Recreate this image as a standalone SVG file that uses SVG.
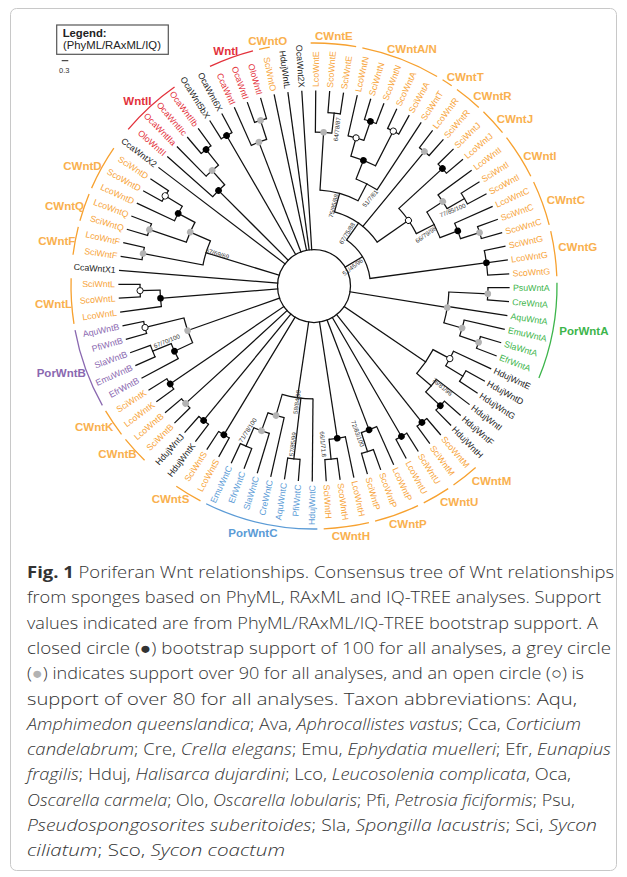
<svg xmlns="http://www.w3.org/2000/svg" xmlns:xlink="http://www.w3.org/1999/xlink" width="627" height="877" viewBox="0 0 627 877">
<style>
.br line{stroke:#111;stroke-width:1.25;stroke-linecap:square}
.br circle{fill:none;stroke:#111;stroke-width:1.25}
.tips text{font-family:"Liberation Sans",Arial,sans-serif;font-size:8.8px;dominant-baseline:central}
.L{text-anchor:end}
.o{fill:#F7A43A}.r{fill:#E3313B}.k{fill:#222}.g{fill:#3DB54B}.b{fill:#5B9BD6}.p{fill:#8A68B0}
.cl{font-family:"Liberation Sans",Arial,sans-serif;font-size:11.5px;font-weight:bold}
.co{fill:#F9B04E}
.bs{font-family:"Liberation Sans",Arial,sans-serif;font-size:6.2px;fill:#333;text-anchor:middle;dominant-baseline:central}
.ba circle{fill:none;stroke-width:1.3}
.cap{font-family:"Open Sans","Noto Sans",sans-serif;font-size:16.5px;font-weight:300;fill:#333}
.it{font-style:italic}
</style>
<defs>
<circle id="db" r="3.3" fill="#000"/>
<circle id="dg" r="3.3" fill="#b3b3b3"/>
<circle id="do" r="3.1" fill="#fff" stroke="#000" stroke-width="0.9"/>
</defs>
<rect x="10.5" y="8.5" width="606" height="862" rx="6" fill="#fff" stroke="#c8c8c8"/>
<g id="legend">
<rect x="56.7" y="25" width="111.6" height="29.3" fill="#fff" stroke="#555" stroke-width="1.2"/>
<text x="62.7" y="36.5" font-family="Liberation Sans,Arial,sans-serif" font-size="11.3" font-weight="bold" fill="#222">Legend:</text>
<text x="63" y="49" font-family="Liberation Sans,Arial,sans-serif" font-size="11.3" fill="#222">(PhyML/RAxML/IQ)</text>
<line x1="61.7" y1="60.7" x2="68.3" y2="60.7" stroke="#222" stroke-width="1"/>
<text x="59" y="73" font-family="Liberation Sans,Arial,sans-serif" font-size="7.5" fill="#333">0.3</text>
</g>
<g transform="translate(314 286)">
<g id="connectors" class="br">
<circle r="36.5"/>
<line x1="36.5" x2="195" transform="rotate(184.6)"/>
<line x1="174" x2="195" transform="rotate(188.69)"/>
<line x1="174" x2="195" transform="rotate(192.78)"/>
<line x1="174" x2="195" transform="rotate(196.87)"/>
<line x1="174" x2="195" transform="rotate(200.96)"/>
<line x1="154" x2="195" transform="rotate(205.05)"/>
<line x1="174" x2="195" transform="rotate(209.15)"/>
<line x1="174" x2="195" transform="rotate(213.24)"/>
<line x1="36.5" x2="195" transform="rotate(217.33)"/>
<line x1="135" x2="195" transform="rotate(221.42)"/>
<line x1="154" x2="195" transform="rotate(225.51)"/>
<line x1="174" x2="195" transform="rotate(229.6)"/>
<line x1="174" x2="195" transform="rotate(233.69)"/>
<line x1="174" x2="195" transform="rotate(237.78)"/>
<line x1="174" x2="195" transform="rotate(241.87)"/>
<line x1="154" x2="195" transform="rotate(245.96)"/>
<line x1="174" x2="195" transform="rotate(250.05)"/>
<line x1="174" x2="195" transform="rotate(254.15)"/>
<line x1="36.5" x2="195" transform="rotate(258.24)"/>
<line x1="36.5" x2="195" transform="rotate(262.33)"/>
<line x1="36.5" x2="195" transform="rotate(266.42)"/>
<line x1="154" x2="195" transform="rotate(270.51)"/>
<line x1="174" x2="195" transform="rotate(274.6)"/>
<line x1="174" x2="195" transform="rotate(278.69)"/>
<line x1="154" x2="195" transform="rotate(282.78)"/>
<line x1="174" x2="195" transform="rotate(286.87)"/>
<line x1="174" x2="195" transform="rotate(290.96)"/>
<line x1="174" x2="195" transform="rotate(295.05)"/>
<line x1="174" x2="195" transform="rotate(299.15)"/>
<line x1="115" x2="195" transform="rotate(303.24)"/>
<line x1="174" x2="195" transform="rotate(307.33)"/>
<line x1="174" x2="195" transform="rotate(311.42)"/>
<line x1="174" x2="195" transform="rotate(315.51)"/>
<line x1="174" x2="195" transform="rotate(319.6)"/>
<line x1="154" x2="195" transform="rotate(323.69)"/>
<line x1="174" x2="195" transform="rotate(327.78)"/>
<line x1="174" x2="195" transform="rotate(331.87)"/>
<line x1="154" x2="195" transform="rotate(335.96)"/>
<line x1="174" x2="195" transform="rotate(340.05)"/>
<line x1="174" x2="195" transform="rotate(344.15)"/>
<line x1="174" x2="195" transform="rotate(348.24)"/>
<line x1="174" x2="195" transform="rotate(352.33)"/>
<line x1="174" x2="195" transform="rotate(356.42)"/>
<line x1="174" x2="195" transform="rotate(0.51)"/>
<line x1="174" x2="195" transform="rotate(4.6)"/>
<line x1="135" x2="195" transform="rotate(8.69)"/>
<line x1="154" x2="195" transform="rotate(12.78)"/>
<line x1="174" x2="195" transform="rotate(16.87)"/>
<line x1="174" x2="195" transform="rotate(20.96)"/>
<line x1="154" x2="195" transform="rotate(25.05)"/>
<line x1="174" x2="195" transform="rotate(29.15)"/>
<line x1="174" x2="195" transform="rotate(33.24)"/>
<line x1="154" x2="195" transform="rotate(37.33)"/>
<line x1="174" x2="195" transform="rotate(41.42)"/>
<line x1="174" x2="195" transform="rotate(45.51)"/>
<line x1="174" x2="195" transform="rotate(49.6)"/>
<line x1="174" x2="195" transform="rotate(53.69)"/>
<line x1="174" x2="195" transform="rotate(57.78)"/>
<line x1="174" x2="195" transform="rotate(61.87)"/>
<line x1="154" x2="195" transform="rotate(65.96)"/>
<line x1="174" x2="195" transform="rotate(70.05)"/>
<line x1="174" x2="195" transform="rotate(74.15)"/>
<line x1="154" x2="195" transform="rotate(78.24)"/>
<line x1="174" x2="195" transform="rotate(82.33)"/>
<line x1="174" x2="195" transform="rotate(86.42)"/>
<line x1="113" x2="195" transform="rotate(90.51)"/>
<line x1="174" x2="195" transform="rotate(94.6)"/>
<line x1="174" x2="195" transform="rotate(98.69)"/>
<line x1="135" x2="195" transform="rotate(102.78)"/>
<line x1="154" x2="195" transform="rotate(106.87)"/>
<line x1="174" x2="195" transform="rotate(110.96)"/>
<line x1="174" x2="195" transform="rotate(115.05)"/>
<line x1="174" x2="195" transform="rotate(119.15)"/>
<line x1="174" x2="195" transform="rotate(123.24)"/>
<line x1="174" x2="195" transform="rotate(127.33)"/>
<line x1="174" x2="195" transform="rotate(131.42)"/>
<line x1="174" x2="195" transform="rotate(135.51)"/>
<line x1="174" x2="195" transform="rotate(139.6)"/>
<line x1="174" x2="195" transform="rotate(143.69)"/>
<line x1="174" x2="195" transform="rotate(147.78)"/>
<line x1="154" x2="195" transform="rotate(151.87)"/>
<line x1="174" x2="195" transform="rotate(155.96)"/>
<line x1="174" x2="195" transform="rotate(160.05)"/>
<line x1="174" x2="195" transform="rotate(164.15)"/>
<line x1="174" x2="195" transform="rotate(168.24)"/>
<line x1="154" x2="195" transform="rotate(172.33)"/>
<line x1="174" x2="195" transform="rotate(176.42)"/>
<line x1="174" x2="195" transform="rotate(180.51)"/>
<line x1="36.5" x2="113" transform="rotate(197.13)"/>
<line x1="113" x2="174" transform="rotate(190.74)"/>
<line x1="113" x2="135" transform="rotate(203.52)"/>
<line x1="135" x2="174" transform="rotate(198.92)"/>
<line x1="135" x2="154" transform="rotate(208.12)"/>
<line x1="154" x2="174" transform="rotate(211.2)"/>
<line x1="36.5" x2="135" transform="rotate(225)"/>
<line x1="135" x2="154" transform="rotate(228.58)"/>
<line x1="154" x2="174" transform="rotate(231.65)"/>
<line x1="36.5" x2="174" transform="rotate(239.83)"/>
<line x1="36.5" x2="154" transform="rotate(249.03)"/>
<line x1="154" x2="174" transform="rotate(252.1)"/>
<line x1="36.5" x2="56.5" transform="rotate(328.84)"/>
<line x1="56.5" x2="77" transform="rotate(305.35)"/>
<line x1="56.5" x2="174" transform="rotate(352.33)"/>
<line x1="77" x2="96" transform="rotate(285.47)"/>
<line x1="96" x2="154" transform="rotate(273.58)"/>
<line x1="154" x2="174" transform="rotate(276.65)"/>
<line x1="96" x2="115" transform="rotate(297.36)"/>
<line x1="115" x2="135" transform="rotate(291.47)"/>
<line x1="135" x2="154" transform="rotate(285.85)"/>
<line x1="154" x2="174" transform="rotate(288.92)"/>
<line x1="135" x2="174" transform="rotate(297.1)"/>
<line x1="77" x2="174" transform="rotate(309.38)"/>
<line x1="77" x2="115" transform="rotate(325.23)"/>
<line x1="115" x2="174" transform="rotate(317.56)"/>
<line x1="115" x2="135" transform="rotate(332.9)"/>
<line x1="135" x2="154" transform="rotate(326.76)"/>
<line x1="154" x2="174" transform="rotate(329.83)"/>
<line x1="135" x2="154" transform="rotate(339.03)"/>
<line x1="154" x2="174" transform="rotate(342.1)"/>
<line x1="36.5" x2="135" transform="rotate(9.2)"/>
<line x1="135" x2="174" transform="rotate(2.55)"/>
<line x1="135" x2="154" transform="rotate(15.85)"/>
<line x1="154" x2="174" transform="rotate(18.92)"/>
<line x1="36.5" x2="135" transform="rotate(34.26)"/>
<line x1="135" x2="154" transform="rotate(28.12)"/>
<line x1="154" x2="174" transform="rotate(31.2)"/>
<line x1="135" x2="154" transform="rotate(40.4)"/>
<line x1="154" x2="174" transform="rotate(43.47)"/>
<line x1="36.5" x2="174" transform="rotate(51.65)"/>
<line x1="36.5" x2="174" transform="rotate(59.83)"/>
<line x1="36.5" x2="154" transform="rotate(69.03)"/>
<line x1="154" x2="174" transform="rotate(72.1)"/>
<line x1="36.5" x2="154" transform="rotate(81.31)"/>
<line x1="154" x2="174" transform="rotate(84.38)"/>
<line x1="36.5" x2="113" transform="rotate(98.44)"/>
<line x1="113" x2="174" transform="rotate(96.65)"/>
<line x1="113" x2="135" transform="rotate(106.36)"/>
<line x1="135" x2="154" transform="rotate(109.94)"/>
<line x1="154" x2="174" transform="rotate(113.01)"/>
<line x1="36.5" x2="174" transform="rotate(121.2)"/>
<line x1="36.5" x2="174" transform="rotate(129.38)"/>
<line x1="36.5" x2="174" transform="rotate(137.56)"/>
<line x1="36.5" x2="174" transform="rotate(145.74)"/>
<line x1="36.5" x2="134" transform="rotate(160.58)"/>
<line x1="134" x2="154" transform="rotate(154.94)"/>
<line x1="154" x2="174" transform="rotate(158.01)"/>
<line x1="134" x2="174" transform="rotate(166.2)"/>
<line x1="36.5" x2="154" transform="rotate(175.44)"/>
<line x1="154" x2="174" transform="rotate(178.47)"/>
<circle r="174" pathLength="360" stroke-dasharray="4.09 999" transform="rotate(188.69)"/>
<circle r="174" pathLength="360" stroke-dasharray="4.09 999" transform="rotate(196.87)"/>
<circle r="174" pathLength="360" stroke-dasharray="4.09 999" transform="rotate(209.15)"/>
<circle r="154" pathLength="360" stroke-dasharray="6.15 999" transform="rotate(205.05)"/>
<circle r="135" pathLength="360" stroke-dasharray="9.2 999" transform="rotate(198.92)"/>
<circle r="113" pathLength="360" stroke-dasharray="12.78 999" transform="rotate(190.74)"/>
<circle r="174" pathLength="360" stroke-dasharray="4.09 999" transform="rotate(229.6)"/>
<circle r="154" pathLength="360" stroke-dasharray="6.14 999" transform="rotate(225.51)"/>
<circle r="135" pathLength="360" stroke-dasharray="7.16 999" transform="rotate(221.42)"/>
<circle r="174" pathLength="360" stroke-dasharray="4.09 999" transform="rotate(237.78)"/>
<circle r="174" pathLength="360" stroke-dasharray="4.1 999" transform="rotate(250.05)"/>
<circle r="154" pathLength="360" stroke-dasharray="6.14 999" transform="rotate(245.96)"/>
<circle r="174" pathLength="360" stroke-dasharray="8.18 999" transform="rotate(348.24)"/>
<circle r="174" pathLength="360" stroke-dasharray="4.09 999" transform="rotate(274.6)"/>
<circle r="154" pathLength="360" stroke-dasharray="6.14 999" transform="rotate(270.51)"/>
<circle r="174" pathLength="360" stroke-dasharray="4.09 999" transform="rotate(286.87)"/>
<circle r="154" pathLength="360" stroke-dasharray="6.14 999" transform="rotate(282.78)"/>
<circle r="174" pathLength="360" stroke-dasharray="4.1 999" transform="rotate(295.05)"/>
<circle r="135" pathLength="360" stroke-dasharray="11.25 999" transform="rotate(285.85)"/>
<circle r="115" pathLength="360" stroke-dasharray="11.77 999" transform="rotate(291.47)"/>
<circle r="96" pathLength="360" stroke-dasharray="23.78 999" transform="rotate(273.58)"/>
<circle r="174" pathLength="360" stroke-dasharray="4.09 999" transform="rotate(307.33)"/>
<circle r="174" pathLength="360" stroke-dasharray="4.09 999" transform="rotate(315.51)"/>
<circle r="174" pathLength="360" stroke-dasharray="4.09 999" transform="rotate(327.78)"/>
<circle r="154" pathLength="360" stroke-dasharray="6.14 999" transform="rotate(323.69)"/>
<circle r="174" pathLength="360" stroke-dasharray="4.1 999" transform="rotate(340.05)"/>
<circle r="154" pathLength="360" stroke-dasharray="6.14 999" transform="rotate(335.96)"/>
<circle r="135" pathLength="360" stroke-dasharray="12.27 999" transform="rotate(326.76)"/>
<circle r="115" pathLength="360" stroke-dasharray="15.34 999" transform="rotate(317.56)"/>
<circle r="77" pathLength="360" stroke-dasharray="39.76 999" transform="rotate(285.47)"/>
<circle r="56.5" pathLength="360" stroke-dasharray="46.98 999" transform="rotate(305.35)"/>
<circle r="174" pathLength="360" stroke-dasharray="4.09 999" transform="rotate(0.51)"/>
<circle r="174" pathLength="360" stroke-dasharray="4.09 999" transform="rotate(16.87)"/>
<circle r="154" pathLength="360" stroke-dasharray="6.14 999" transform="rotate(12.78)"/>
<circle r="135" pathLength="360" stroke-dasharray="13.3 999" transform="rotate(2.55)"/>
<circle r="174" pathLength="360" stroke-dasharray="4.09 999" transform="rotate(29.15)"/>
<circle r="154" pathLength="360" stroke-dasharray="6.15 999" transform="rotate(25.05)"/>
<circle r="174" pathLength="360" stroke-dasharray="4.09 999" transform="rotate(41.42)"/>
<circle r="154" pathLength="360" stroke-dasharray="6.14 999" transform="rotate(37.33)"/>
<circle r="135" pathLength="360" stroke-dasharray="12.28 999" transform="rotate(28.12)"/>
<circle r="174" pathLength="360" stroke-dasharray="4.09 999" transform="rotate(49.6)"/>
<circle r="174" pathLength="360" stroke-dasharray="4.09 999" transform="rotate(57.78)"/>
<circle r="174" pathLength="360" stroke-dasharray="4.1 999" transform="rotate(70.05)"/>
<circle r="154" pathLength="360" stroke-dasharray="6.14 999" transform="rotate(65.96)"/>
<circle r="174" pathLength="360" stroke-dasharray="4.09 999" transform="rotate(82.33)"/>
<circle r="154" pathLength="360" stroke-dasharray="6.14 999" transform="rotate(78.24)"/>
<circle r="174" pathLength="360" stroke-dasharray="4.09 999" transform="rotate(94.6)"/>
<circle r="174" pathLength="360" stroke-dasharray="4.09 999" transform="rotate(110.96)"/>
<circle r="154" pathLength="360" stroke-dasharray="6.14 999" transform="rotate(106.87)"/>
<circle r="135" pathLength="360" stroke-dasharray="7.16 999" transform="rotate(102.78)"/>
<circle r="113" pathLength="360" stroke-dasharray="15.85 999" transform="rotate(90.51)"/>
<circle r="174" pathLength="360" stroke-dasharray="4.09 999" transform="rotate(119.15)"/>
<circle r="174" pathLength="360" stroke-dasharray="4.09 999" transform="rotate(127.33)"/>
<circle r="174" pathLength="360" stroke-dasharray="4.09 999" transform="rotate(135.51)"/>
<circle r="174" pathLength="360" stroke-dasharray="4.09 999" transform="rotate(143.69)"/>
<circle r="174" pathLength="360" stroke-dasharray="4.09 999" transform="rotate(155.96)"/>
<circle r="154" pathLength="360" stroke-dasharray="6.14 999" transform="rotate(151.87)"/>
<circle r="174" pathLength="360" stroke-dasharray="4.09 999" transform="rotate(164.15)"/>
<circle r="134" pathLength="360" stroke-dasharray="11.26 999" transform="rotate(154.94)"/>
<circle r="174" pathLength="360" stroke-dasharray="4.09 999" transform="rotate(176.42)"/>
<circle r="154" pathLength="360" stroke-dasharray="6.14 999" transform="rotate(172.33)"/>
</g>
<g id="internal-nodes">
<g id="n-F"><use href="#dg" transform="rotate(190.74) translate(174)"/></g>
<g id="n-Q"><use href="#dg" transform="rotate(198.92) translate(174)"/></g>
<g id="n-QD"><use href="#dg" transform="rotate(203.52) translate(135)"/></g>
<g id="n-D1"><use href="#do" transform="rotate(211.2) translate(174)"/></g>
<g id="n-D2"><use href="#db" transform="rotate(208.12) translate(154)"/></g>
<g id="n-II1"><use href="#db" transform="rotate(231.65) translate(174)"/></g>
<g id="n-II2"><use href="#dg" transform="rotate(228.58) translate(154)"/></g>
<g id="n-II3"><use href="#db" transform="rotate(225) translate(135)"/></g>
<g id="n-5b6"><use href="#db" transform="rotate(239.83) translate(174)"/></g>
<g id="n-I1"><use href="#dg" transform="rotate(252.1) translate(174)"/></g>
<g id="n-I2"><use href="#dg" transform="rotate(249.03) translate(154)"/></g>
<g id="n-E2"><use href="#dg" transform="rotate(273.58) translate(154)"/></g>
<g id="n-N1"><use href="#db" transform="rotate(288.92) translate(174)"/></g>
<g id="n-N2"><use href="#do" transform="rotate(285.85) translate(154)"/></g>
<g id="n-A1"><use href="#do" transform="rotate(297.1) translate(174)"/></g>
<g id="n-NA"><use href="#db" transform="rotate(291.47) translate(135)"/></g>
<g id="n-R"><use href="#dg" transform="rotate(309.38) translate(174)"/></g>
<g id="n-J"><use href="#db" transform="rotate(317.56) translate(174)"/></g>
<g id="n-Ic"><use href="#dg" transform="rotate(326.76) translate(154)"/></g>
<g id="n-C1"><use href="#dg" transform="rotate(342.1) translate(174)"/></g>
<g id="n-C2"><use href="#db" transform="rotate(339.03) translate(154)"/></g>
<g id="n-Y"><use href="#do" transform="rotate(325.23) translate(115)"/></g>
<g id="n-G"><use href="#db" transform="rotate(352.33) translate(174)"/></g>
<g id="n-A_1"><use href="#dg" transform="rotate(2.55) translate(174)"/></g>
<g id="n-PA"><use href="#dg" transform="rotate(9.2) translate(135)"/></g>
<g id="n-A_3"><use href="#dg" transform="rotate(15.85) translate(154)"/></g>
<g id="n-A_2"><use href="#dg" transform="rotate(18.92) translate(174)"/></g>
<g id="n-HEDG"><use href="#do" transform="rotate(28.12) translate(154)"/></g>
<g id="n-HFH"><use href="#db" transform="rotate(43.47) translate(174)"/></g>
<g id="n-M"><use href="#db" transform="rotate(51.65) translate(174)"/></g>
<g id="n-U"><use href="#db" transform="rotate(59.83) translate(174)"/></g>
<g id="n-P2"><use href="#db" transform="rotate(69.03) translate(154)"/></g>
<g id="n-H2"><use href="#db" transform="rotate(81.31) translate(154)"/></g>
<g id="n-C_3"><use href="#dg" transform="rotate(106.36) translate(135)"/></g>
<g id="n-C_2"><use href="#dg" transform="rotate(109.94) translate(154)"/></g>
<g id="n-S"><use href="#db" transform="rotate(121.2) translate(174)"/></g>
<g id="n-HJK"><use href="#db" transform="rotate(129.38) translate(174)"/></g>
<g id="n-B"><use href="#dg" transform="rotate(137.56) translate(174)"/></g>
<g id="n-K"><use href="#db" transform="rotate(145.74) translate(174)"/></g>
<g id="n-B3"><use href="#db" transform="rotate(154.94) translate(154)"/></g>
<g id="n-PB"><use href="#dg" transform="rotate(160.58) translate(134)"/></g>
<g id="n-B1"><use href="#do" transform="rotate(166.2) translate(174)"/></g>
<g id="n-L2"><use href="#db" transform="rotate(175.44) translate(154)"/></g>
<g id="n-L1"><use href="#do" transform="rotate(178.47) translate(174)"/></g>
</g>
<g id="brackets" class="ba">
<circle r="243" stroke="#F7A12F" pathLength="360" stroke-dasharray="6.7 999" transform="rotate(187.39)"/>
<circle r="243" stroke="#F7A12F" pathLength="360" stroke-dasharray="6.7 999" transform="rotate(195.57)"/>
<circle r="243" stroke="#F7A12F" pathLength="360" stroke-dasharray="10.8 999" transform="rotate(203.75)"/>
<circle r="243" stroke="#E3313B" pathLength="360" stroke-dasharray="14.87 999" transform="rotate(220.12)"/>
<circle r="243" stroke="#E3313B" pathLength="360" stroke-dasharray="10.8 999" transform="rotate(244.66)"/>
<circle r="243" stroke="#F7A12F" pathLength="360" stroke-dasharray="2.6 999" transform="rotate(256.94)"/>
<circle r="243" stroke="#F7A12F" pathLength="360" stroke-dasharray="10.78 999" transform="rotate(269.21)"/>
<circle r="243" stroke="#F7A12F" pathLength="360" stroke-dasharray="18.97 999" transform="rotate(281.48)"/>
<circle r="243" stroke="#F7A12F" pathLength="360" stroke-dasharray="2.6 999" transform="rotate(301.94)"/>
<circle r="243" stroke="#F7A12F" pathLength="360" stroke-dasharray="6.69 999" transform="rotate(306.03)"/>
<circle r="243" stroke="#F7A12F" pathLength="360" stroke-dasharray="6.69 999" transform="rotate(314.21)"/>
<circle r="243" stroke="#F7A12F" pathLength="360" stroke-dasharray="10.78 999" transform="rotate(322.39)"/>
<circle r="243" stroke="#F7A12F" pathLength="360" stroke-dasharray="10.79 999" transform="rotate(334.66)"/>
<circle r="243" stroke="#F7A12F" pathLength="360" stroke-dasharray="10.78 999" transform="rotate(346.94)"/>
<circle r="243" stroke="#3DB54B" pathLength="360" stroke-dasharray="23.05 999" transform="rotate(359.21)"/>
<circle r="243" stroke="#F7A12F" pathLength="360" stroke-dasharray="6.69 999" transform="rotate(48.3)"/>
<circle r="243" stroke="#F7A12F" pathLength="360" stroke-dasharray="6.69 999" transform="rotate(56.48)"/>
<circle r="243" stroke="#F7A12F" pathLength="360" stroke-dasharray="10.79 999" transform="rotate(64.66)"/>
<circle r="243" stroke="#F7A12F" pathLength="360" stroke-dasharray="10.78 999" transform="rotate(76.94)"/>
<circle r="243" stroke="#5B9BD6" pathLength="360" stroke-dasharray="27.14 999" transform="rotate(89.21)"/>
<circle r="243" stroke="#F7A12F" pathLength="360" stroke-dasharray="6.69 999" transform="rotate(117.85)"/>
<circle r="243" stroke="#F7A12F" pathLength="360" stroke-dasharray="6.69 999" transform="rotate(134.21)"/>
<circle r="243" stroke="#F7A12F" pathLength="360" stroke-dasharray="6.69 999" transform="rotate(142.39)"/>
<circle r="243" stroke="#8A68B0" pathLength="360" stroke-dasharray="18.97 999" transform="rotate(150.57)"/>
<circle r="243" stroke="#F7A12F" pathLength="360" stroke-dasharray="10.78 999" transform="rotate(171.03)"/>
</g>
<g id="tips" class="tips">
<g id="CcaWntX1" class="k"><text class="L" transform="rotate(184.6) translate(199) rotate(180)">CcaWntX1</text></g>
<g id="SciWntF" class="o"><text class="L" transform="rotate(188.69) translate(199) rotate(180)">SciWntF</text></g>
<g id="LcoWntF" class="o"><text class="L" transform="rotate(192.78) translate(199) rotate(180)">LcoWntF</text></g>
<g id="SciWntQ" class="o"><text class="L" transform="rotate(196.87) translate(199) rotate(180)">SciWntQ</text></g>
<g id="LcoWntQ" class="o"><text class="L" transform="rotate(200.96) translate(199) rotate(180)">LcoWntQ</text></g>
<g id="LcoWntD" class="o"><text class="L" transform="rotate(205.05) translate(199) rotate(180)">LcoWntD</text></g>
<g id="ScoWntD" class="o"><text class="L" transform="rotate(209.15) translate(199) rotate(180)">ScoWntD</text></g>
<g id="SciWntD" class="o"><text class="L" transform="rotate(213.24) translate(199) rotate(180)">SciWntD</text></g>
<g id="CcaWntX2" class="k"><text class="L" transform="rotate(217.33) translate(199) rotate(180)">CcaWntX2</text></g>
<g id="OloWntII" class="r"><text class="L" transform="rotate(221.42) translate(199) rotate(180)">OloWntII</text></g>
<g id="OcaWntIIa" class="r"><text class="L" transform="rotate(225.51) translate(199) rotate(180)">OcaWntIIa</text></g>
<g id="OcaWntIIc" class="r"><text class="L" transform="rotate(229.6) translate(199) rotate(180)">OcaWntIIc</text></g>
<g id="OcaWntIIb" class="r"><text class="L" transform="rotate(233.69) translate(199) rotate(180)">OcaWntIIb</text></g>
<g id="OcaWnt5bX" class="k"><text class="L" transform="rotate(237.78) translate(199) rotate(180)">OcaWnt5bX</text></g>
<g id="OcaWnt6X" class="k"><text class="L" transform="rotate(241.87) translate(199) rotate(180)">OcaWnt6X</text></g>
<g id="CcaWntI" class="r"><text class="L" transform="rotate(245.96) translate(199) rotate(180)">CcaWntI</text></g>
<g id="OcaWntI" class="r"><text class="L" transform="rotate(250.05) translate(199) rotate(180)">OcaWntI</text></g>
<g id="OloWntI" class="r"><text class="L" transform="rotate(254.15) translate(199) rotate(180)">OloWntI</text></g>
<g id="SciWntO" class="o"><text class="L" transform="rotate(258.24) translate(199) rotate(180)">SciWntO</text></g>
<g id="HdujWntL" class="k"><text class="L" transform="rotate(262.33) translate(199) rotate(180)">HdujWntL</text></g>
<g id="OcaWnt2X" class="k"><text class="L" transform="rotate(266.42) translate(199) rotate(180)">OcaWnt2X</text></g>
<g id="LcoWntE" class="o"><text transform="rotate(270.51) translate(199)">LcoWntE</text></g>
<g id="ScoWntE" class="o"><text transform="rotate(274.6) translate(199)">ScoWntE</text></g>
<g id="SciWntE" class="o"><text transform="rotate(278.69) translate(199)">SciWntE</text></g>
<g id="LcoWntN" class="o"><text transform="rotate(282.78) translate(199)">LcoWntN</text></g>
<g id="SciWntN" class="o"><text transform="rotate(286.87) translate(199)">SciWntN</text></g>
<g id="ScoWntN" class="o"><text transform="rotate(290.96) translate(199)">ScoWntN</text></g>
<g id="ScoWntA" class="o"><text transform="rotate(295.05) translate(199)">ScoWntA</text></g>
<g id="SciWntA" class="o"><text transform="rotate(299.15) translate(199)">SciWntA</text></g>
<g id="SciWntT" class="o"><text transform="rotate(303.24) translate(199)">SciWntT</text></g>
<g id="LcoWntR" class="o"><text transform="rotate(307.33) translate(199)">LcoWntR</text></g>
<g id="SciWntR" class="o"><text transform="rotate(311.42) translate(199)">SciWntR</text></g>
<g id="SciWntJ" class="o"><text transform="rotate(315.51) translate(199)">SciWntJ</text></g>
<g id="LcoWntJ" class="o"><text transform="rotate(319.6) translate(199)">LcoWntJ</text></g>
<g id="LcoWntI" class="o"><text transform="rotate(323.69) translate(199)">LcoWntI</text></g>
<g id="SciWntI" class="o"><text transform="rotate(327.78) translate(199)">SciWntI</text></g>
<g id="ScoWntI" class="o"><text transform="rotate(331.87) translate(199)">ScoWntI</text></g>
<g id="LcoWntC" class="o"><text transform="rotate(335.96) translate(199)">LcoWntC</text></g>
<g id="SciWntC" class="o"><text transform="rotate(340.05) translate(199)">SciWntC</text></g>
<g id="ScoWntC" class="o"><text transform="rotate(344.15) translate(199)">ScoWntC</text></g>
<g id="SciWntG" class="o"><text transform="rotate(348.24) translate(199)">SciWntG</text></g>
<g id="LcoWntG" class="o"><text transform="rotate(352.33) translate(199)">LcoWntG</text></g>
<g id="ScoWntG" class="o"><text transform="rotate(356.42) translate(199)">ScoWntG</text></g>
<g id="PsuWntA" class="g"><text transform="rotate(0.51) translate(199)">PsuWntA</text></g>
<g id="CreWntA" class="g"><text transform="rotate(4.6) translate(199)">CreWntA</text></g>
<g id="AquWntA" class="g"><text transform="rotate(8.69) translate(199)">AquWntA</text></g>
<g id="EmuWntA" class="g"><text transform="rotate(12.78) translate(199)">EmuWntA</text></g>
<g id="SlaWntA" class="g"><text transform="rotate(16.87) translate(199)">SlaWntA</text></g>
<g id="EfrWntA" class="g"><text transform="rotate(20.96) translate(199)">EfrWntA</text></g>
<g id="HdujWntE" class="k"><text transform="rotate(25.05) translate(199)">HdujWntE</text></g>
<g id="HdujWntD" class="k"><text transform="rotate(29.15) translate(199)">HdujWntD</text></g>
<g id="HdujWntG" class="k"><text transform="rotate(33.24) translate(199)">HdujWntG</text></g>
<g id="HdujWntI" class="k"><text transform="rotate(37.33) translate(199)">HdujWntI</text></g>
<g id="HdujWntF" class="k"><text transform="rotate(41.42) translate(199)">HdujWntF</text></g>
<g id="HdujWntH" class="k"><text transform="rotate(45.51) translate(199)">HdujWntH</text></g>
<g id="ScoWntM" class="o"><text transform="rotate(49.6) translate(199)">ScoWntM</text></g>
<g id="SciWntM" class="o"><text transform="rotate(53.69) translate(199)">SciWntM</text></g>
<g id="SciWntU" class="o"><text transform="rotate(57.78) translate(199)">SciWntU</text></g>
<g id="LcoWntU" class="o"><text transform="rotate(61.87) translate(199)">LcoWntU</text></g>
<g id="LcoWntP" class="o"><text transform="rotate(65.96) translate(199)">LcoWntP</text></g>
<g id="ScoWntP" class="o"><text transform="rotate(70.05) translate(199)">ScoWntP</text></g>
<g id="SciWntP" class="o"><text transform="rotate(74.15) translate(199)">SciWntP</text></g>
<g id="LcoWntH" class="o"><text transform="rotate(78.24) translate(199)">LcoWntH</text></g>
<g id="ScoWntH" class="o"><text transform="rotate(82.33) translate(199)">ScoWntH</text></g>
<g id="SciWntH" class="o"><text transform="rotate(86.42) translate(199)">SciWntH</text></g>
<g id="HdujWntC" class="b"><text class="L" transform="rotate(90.51) translate(199) rotate(180)">HdujWntC</text></g>
<g id="PfiWntC" class="b"><text class="L" transform="rotate(94.6) translate(199) rotate(180)">PfiWntC</text></g>
<g id="AquWntC" class="b"><text class="L" transform="rotate(98.69) translate(199) rotate(180)">AquWntC</text></g>
<g id="CreWntC" class="b"><text class="L" transform="rotate(102.78) translate(199) rotate(180)">CreWntC</text></g>
<g id="SlaWntC" class="b"><text class="L" transform="rotate(106.87) translate(199) rotate(180)">SlaWntC</text></g>
<g id="EfrWntC" class="b"><text class="L" transform="rotate(110.96) translate(199) rotate(180)">EfrWntC</text></g>
<g id="EmuWntC" class="b"><text class="L" transform="rotate(115.05) translate(199) rotate(180)">EmuWntC</text></g>
<g id="LcoWntS" class="o"><text class="L" transform="rotate(119.15) translate(199) rotate(180)">LcoWntS</text></g>
<g id="SciWntS" class="o"><text class="L" transform="rotate(123.24) translate(199) rotate(180)">SciWntS</text></g>
<g id="HdujWntK" class="k"><text class="L" transform="rotate(127.33) translate(199) rotate(180)">HdujWntK</text></g>
<g id="HdujWntJ" class="k"><text class="L" transform="rotate(131.42) translate(199) rotate(180)">HdujWntJ</text></g>
<g id="SciWntB" class="o"><text class="L" transform="rotate(135.51) translate(199) rotate(180)">SciWntB</text></g>
<g id="LcoWntB" class="o"><text class="L" transform="rotate(139.6) translate(199) rotate(180)">LcoWntB</text></g>
<g id="LcoWntK" class="o"><text class="L" transform="rotate(143.69) translate(199) rotate(180)">LcoWntK</text></g>
<g id="SciWntK" class="o"><text class="L" transform="rotate(147.78) translate(199) rotate(180)">SciWntK</text></g>
<g id="EfrWntB" class="p"><text class="L" transform="rotate(151.87) translate(199) rotate(180)">EfrWntB</text></g>
<g id="EmuWntB" class="p"><text class="L" transform="rotate(155.96) translate(199) rotate(180)">EmuWntB</text></g>
<g id="SlaWntB" class="p"><text class="L" transform="rotate(160.05) translate(199) rotate(180)">SlaWntB</text></g>
<g id="PfiWntB" class="p"><text class="L" transform="rotate(164.15) translate(199) rotate(180)">PfiWntB</text></g>
<g id="AquWntB" class="p"><text class="L" transform="rotate(168.24) translate(199) rotate(180)">AquWntB</text></g>
<g id="LcoWntL" class="o"><text class="L" transform="rotate(172.33) translate(199) rotate(180)">LcoWntL</text></g>
<g id="ScoWntL" class="o"><text class="L" transform="rotate(176.42) translate(199) rotate(180)">ScoWntL</text></g>
<g id="SciWntL" class="o"><text class="L" transform="rotate(180.51) translate(199) rotate(180)">SciWntL</text></g>
</g>
</g>
<g id="support-values">
<text class="bs" transform="translate(217.5 253.3) rotate(17)">67/69/69</text>
<text class="bs" transform="translate(336.7 129.2) rotate(-83)">64/78/87</text>
<text class="bs" transform="translate(333.3 205.8) rotate(-76)">75/85/88</text>
<text class="bs" transform="translate(346.7 233.3) rotate(-58)">67/75/88</text>
<text class="bs" transform="translate(352.5 266.7) rotate(-38)">51/45/96</text>
<text class="bs" transform="translate(370 198.3) rotate(-50)">51/7/61</text>
<text class="bs" transform="translate(425.8 234.2) rotate(-35)">66/79/98</text>
<text class="bs" transform="translate(452.5 210) rotate(-22)">77/85/100</text>
<text class="bs" transform="translate(442.5 386.5) rotate(40)">76/81/96</text>
<text class="bs" transform="translate(358 433.5) rotate(70)">72/83/100</text>
<text class="bs" transform="translate(323.3 444.2) rotate(85)">66/1/71.8</text>
<text class="bs" transform="translate(292.5 444.2) rotate(-83)">57/85/99</text>
<text class="bs" transform="translate(296.7 402) rotate(-82)">58/84/98</text>
<text class="bs" transform="translate(247.5 430) rotate(-57)">71/78/100</text>
<text class="bs" transform="translate(166.7 340.8) rotate(-22)">67/70/100</text>
</g>
<g id="clade-labels" class="cl">
<text x="123.3" y="105" fill="#E3313B">WntII</text>
<text x="63.3" y="170" class="co">CWntD</text>
<text x="45" y="210" class="co">CWntQ</text>
<text x="38.3" y="245" class="co">CWntF</text>
<text x="35" y="308" class="co">CWntL</text>
<text x="36.7" y="377" fill="#8A68B0">PorWntB</text>
<text x="75" y="431" class="co">CWntK</text>
<text x="98.3" y="458" class="co">CWntB</text>
<text x="151.7" y="503" class="co">CWntS</text>
<text x="228.3" y="537" fill="#5B9BD6">PorWntC</text>
<text x="331.7" y="540" class="co">CWntH</text>
<text x="389" y="528" class="co">CWntP</text>
<text x="440" y="506" class="co">CWntU</text>
<text x="471.7" y="485" class="co">CWntM</text>
<text x="559.3" y="335" fill="#3DB54B">PorWntA</text>
<text x="558.3" y="251" class="co">CWntG</text>
<text x="546.7" y="204" class="co">CWntC</text>
<text x="523.3" y="160" class="co">CWntI</text>
<text x="496.7" y="123" class="co">CWntJ</text>
<text x="473.3" y="100" class="co">CWntR</text>
<text x="446.7" y="81" class="co">CWntT</text>
<text x="387" y="53" class="co">CWntA/N</text>
<text x="315" y="40" class="co">CWntE</text>
<text x="248.3" y="45" class="co">CWntO</text>
<text x="213.3" y="55" fill="#E3313B">WntI</text>
</g>
<g id="caption" class="cap">
<text x="27" y="578" textLength="587" lengthAdjust="spacingAndGlyphs"><tspan font-weight="700">Fig. 1</tspan> Poriferan Wnt relationships. Consensus tree of Wnt relationships</text>
<text x="27" y="603.3" textLength="574" lengthAdjust="spacingAndGlyphs">from sponges based on PhyML, RAxML and IQ-TREE analyses. Support</text>
<text x="27" y="628.6" textLength="571" lengthAdjust="spacingAndGlyphs">values indicated are from PhyML/RAxML/IQ-TREE bootstrap support. A</text>
<text x="27" y="653.9" textLength="584" lengthAdjust="spacingAndGlyphs">closed circle (●) bootstrap support of 100 for all analyses, a grey circle</text>
<text x="27" y="679.2" textLength="557" lengthAdjust="spacingAndGlyphs">(<tspan fill="#b3b3b3">●</tspan>) indicates support over 90 for all analyses, and an open circle (○) is</text>
<text x="27" y="704.5" textLength="550" lengthAdjust="spacingAndGlyphs">support of over 80 for all analyses. Taxon abbreviations: Aqu,</text>
<text x="27" y="729.8" textLength="554" lengthAdjust="spacingAndGlyphs"><tspan class="it">Amphimedon queenslandica</tspan>; Ava, <tspan class="it">Aphrocallistes vastus</tspan>; Cca, <tspan class="it">Corticium</tspan></text>
<text x="27" y="755.1" textLength="584" lengthAdjust="spacingAndGlyphs"><tspan class="it">candelabrum</tspan>; Cre, <tspan class="it">Crella elegans</tspan>; Emu, <tspan class="it">Ephydatia muelleri</tspan>; Efr, <tspan class="it">Eunapius</tspan></text>
<text x="27" y="780.4" textLength="544" lengthAdjust="spacingAndGlyphs"><tspan class="it">fragilis</tspan>; Hduj, <tspan class="it">Halisarca dujardini</tspan>; Lco, <tspan class="it">Leucosolenia complicata</tspan>, Oca,</text>
<text x="27" y="805.7" textLength="548" lengthAdjust="spacingAndGlyphs"><tspan class="it">Oscarella carmela</tspan>; Olo, <tspan class="it">Oscarella lobularis</tspan>; Pfi, <tspan class="it">Petrosia ficiformis</tspan>; Psu,</text>
<text x="27" y="831" textLength="570" lengthAdjust="spacingAndGlyphs"><tspan class="it">Pseudospongosorites suberitoides</tspan>; Sla, <tspan class="it">Spongilla lacustris</tspan>; Sci, <tspan class="it">Sycon</tspan></text>
<text x="27" y="856.3" textLength="258" lengthAdjust="spacingAndGlyphs"><tspan class="it">ciliatum</tspan>; Sco, <tspan class="it">Sycon coactum</tspan></text>
</g>
</svg>
